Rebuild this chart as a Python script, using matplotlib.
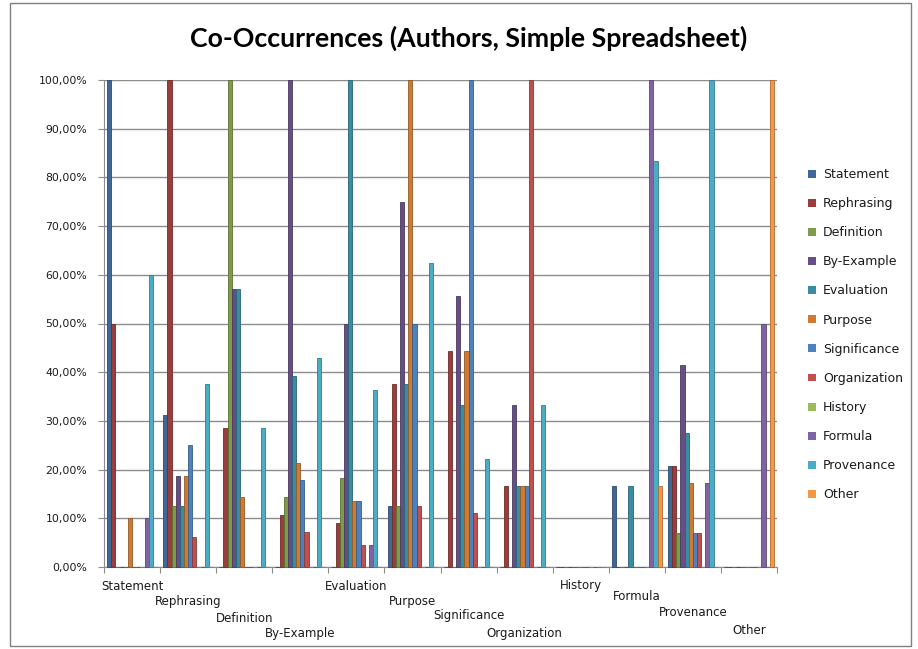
import matplotlib
matplotlib.use("Agg")
import matplotlib.pyplot as plt
from matplotlib.patches import Rectangle
from matplotlib.ticker import FuncFormatter, MultipleLocator
import numpy as np

categories = ["Statement", "Rephrasing", "Definition", "By-Example", "Evaluation",
              "Purpose", "Significance", "Organization", "History", "Formula",
              "Provenance", "Other"]

series_names = categories

series_colors = ["#3F6798", "#9B3D3A", "#7E9B47", "#654F85", "#3A8CA3", "#CF7A32",
                 "#4F81BD", "#C0504D", "#9BBB59", "#8064A2", "#4BACC6", "#F79646"]

# co-occurrence shares (%) per category, one list per series
statement    = [100.0, 31.25, 0.0,   0.0,   0.0,   12.5, 0.0,   0.0,   0.0, 16.67, 20.69, 0.0]
rephrasing   = [50.0, 100.0, 28.57, 10.71, 9.09,  37.5, 44.44, 16.67, 0.0, 0.0,   20.69, 0.0]
definition   = [0.0,  12.5,  100.0, 14.29, 18.18, 12.5, 0.0,   0.0,   0.0, 0.0,   6.90,  0.0]
by_example   = [0.0,  18.75, 57.14, 100.0, 50.0,  75.0, 55.56, 33.33, 0.0, 0.0,   41.38, 0.0]
evaluation   = [0.0,  12.5,  57.14, 39.29, 100.0, 37.5, 33.33, 16.67, 0.0, 16.67, 27.59, 0.0]
purpose      = [10.0, 18.75, 14.29, 21.43, 13.64, 100.0, 44.44, 16.67, 0.0, 0.0,  17.24, 0.0]
significance = [0.0,  25.0,  0.0,   17.86, 13.64, 50.0, 100.0, 16.67, 0.0, 0.0,   6.90,  0.0]
organization = [0.0,  6.25,  0.0,   7.14,  4.55,  12.5, 11.11, 100.0, 0.0, 0.0,   6.90,  0.0]
history      = [0.0,  0.0,   0.0,   0.0,   0.0,   0.0,  0.0,   0.0,   0.0, 0.0,   0.0,   0.0]
formula      = [10.0, 0.0,   0.0,   0.0,   4.55,  0.0,  0.0,   0.0,   0.0, 100.0, 17.24, 50.0]
provenance   = [60.0, 37.5,  28.57, 42.86, 36.36, 62.5, 22.22, 33.33, 0.0, 83.33, 100.0, 0.0]
other        = [0.0,  0.0,   0.0,   0.0,   0.0,   0.0,  0.0,   0.0,   0.0, 16.67, 0.0,   100.0]

series_values = [statement, rephrasing, definition, by_example, evaluation, purpose,
                 significance, organization, history, formula, provenance, other]


def darker(hex_color, f=0.72):
    r, g, b = [int(hex_color[i:i + 2], 16) / 255 for i in (1, 3, 5)]
    return (r * f, g * f, b * f)


W, H = 918, 649
fig = plt.figure(figsize=(W / 100, H / 100), dpi=100)
fig.patch.set_facecolor("white")

ax = fig.add_axes([104 / W, (H - 567) / H, (777 - 104) / W, (567 - 80) / H])

n_series = len(series_values)
bar_w = 1 / 13.5
x = np.arange(len(categories))
for j, (name, vals, col) in enumerate(zip(series_names, series_values, series_colors)):
    offs = (j - (n_series - 1) / 2) * bar_w
    bars = ax.bar(x + offs, vals, width=bar_w, color=col, edgecolor=darker(col),
                  linewidth=0.6, label=name, zorder=3)
    for b in bars:
        b.set_clip_on(False)

ax.set_xlim(-0.5, len(categories) - 0.5)
ax.set_ylim(0, 100)
ax.yaxis.set_major_locator(MultipleLocator(10))
ax.yaxis.set_major_formatter(FuncFormatter(lambda v, p: f"{v:.2f}%".replace(".", ",")))
ax.grid(axis="y", color="#8C8C8C", linewidth=1.0, zorder=0)
ax.tick_params(axis="y", length=4, width=0.8, color="#8C8C8C", labelsize=7.8,
               pad=8, labelcolor="#1A1A1A")

# category boundary ticks on the x axis
ax.set_xticks(np.arange(-0.5, len(categories) + 0.5, 1))
ax.set_xticklabels([])
ax.tick_params(axis="x", length=4, width=0.8, color="#8C8C8C", direction="out")

for s in ["top", "right"]:
    ax.spines[s].set_visible(False)
for s in ["left", "bottom"]:
    ax.spines[s].set_color("#8C8C8C")
    ax.spines[s].set_linewidth(0.8)

# staggered category labels
label_offsets = [19, 35, 51, 66, 20, 35, 48, 66, 18, 29, 46, 64]
for i, (cat, dy) in enumerate(zip(categories, label_offsets)):
    ax.annotate(cat, xy=(i, 0), xycoords=("data", "axes fraction"),
                xytext=(0, -dy * 0.72), textcoords="offset points",
                ha="center", va="center", fontsize=8.5, color="#1A1A1A")

fig.text(469 / W, 1 - 38 / H, "Co-Occurrences (Authors, Simple Spreadsheet)",
         ha="center", va="center", fontsize=19.3, fontweight="bold",
         family="Lato", color="#000000")

leg = fig.legend(loc="upper left", bbox_to_anchor=(803 / W, 1 - 163 / H),
                 frameon=False, fontsize=9, handlelength=0.6, handleheight=0.6,
                 handletextpad=0.6, labelspacing=1.29, borderaxespad=0)
for t in leg.get_texts():
    t.set_color("#1A1A1A")
for h in leg.legend_handles:
    h.set_linewidth(0)

fig.patches.append(Rectangle((10 / W, 3 / H), 901 / W, 643 / H, transform=fig.transFigure,
                             fill=False, edgecolor="#808080", linewidth=1.0))

fig.savefig("out.png", dpi=100)
